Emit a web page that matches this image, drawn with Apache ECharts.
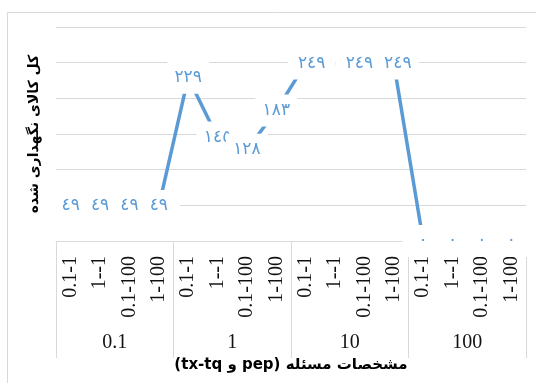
<!DOCTYPE html>
<html>
<head>
<meta charset="utf-8">
<script src="https://cdn.jsdelivr.net/npm/echarts@6/dist/echarts.min.js"></script>
<style>
  html, body { margin: 0; padding: 0; background: #ffffff; }
  #chart { width: 536px; height: 383px; }
</style>
</head>
<body>
<div id="chart"></div>
<script>
// pep values (outer level) and tx-tq settings (inner level)
const pepGroups = ['0.1', '1', '10', '100'];
const txTqSettings = ['0.1-1', '1--1', '0.1-100', '1-100'];

// total stored goods for each (pep, tx-tq) combination
const storedGoods = [
  49, 49, 49, 49,
  229, 145, 128, 183,
  249, 249, 249, 249,
  0, 0, 0, 0
];

// value axis range
const yMin = 0;
const yMax = 300;
const yStep = 50;

const yTitle = 'کل کالای نگهداری شده';
const xTitle = 'مشخصات مسئله (pep و tx-tq)';

// inner category list: every tx-tq setting repeated under each pep group
const innerCategories = [];
pepGroups.forEach(() => txTqSettings.forEach(s => innerCategories.push(s)));

const toArabicDigits = v => String(v).replace(/\d/g, d => String.fromCharCode(0x0660 + Number(d)));

// crowded labels in the flat 249 run are thinned and nudged apart
const labelTweaks = {
  8: { offset: [6, 0], width: 40 },
  9: { show: false },
  10: { offset: [-5, 0], width: 40 },
  11: { offset: [4, 0] }
};

const blue = '#5B9BD5';
const gridGrey = '#D9D9D9';
const rtl = s => '\u202B' + s + '\u202C';

const chart = echarts.init(document.getElementById('chart'), null, { renderer: 'canvas' });

chart.setOption({
  animation: false,
  backgroundColor: '#ffffff',
  graphic: [{
    type: 'rect',
    shape: { x: 7.5, y: 12.5, width: 600, height: 420 },
    style: { fill: 'none', stroke: gridGrey, lineWidth: 1 },
    silent: true,
    z: -1
  }],
  grid: { left: 56, right: 10, top: 27, bottom: 142, containLabel: false },
  xAxis: [
    {
      type: 'category',
      data: innerCategories,
      position: 'bottom',
      axisLine: { show: true, lineStyle: { color: gridGrey, width: 1 } },
      axisTick: { show: false },
      axisLabel: {
        interval: 0,
        rotate: 90,
        margin: 15,
        fontFamily: 'Liberation Serif',
        fontSize: 20,
        color: '#111111'
      },
      splitLine: { show: false }
    },
    {
      type: 'category',
      data: pepGroups,
      position: 'bottom',
      offset: 0,
      axisLine: { show: false },
      axisTick: { show: true, interval: 0, length: 117, lineStyle: { color: gridGrey, width: 1 } },
      axisLabel: {
        interval: 0,
        margin: 92,
        fontFamily: 'Liberation Serif',
        fontSize: 20,
        color: '#111111'
      },
      splitLine: { show: false },
      name: rtl(xTitle),
      nameLocation: 'middle',
      nameGap: 116,
      nameTextStyle: {
        fontFamily: 'DejaVu Sans',
        fontWeight: 'bold',
        fontSize: 15,
        color: '#000000'
      }
    }
  ],
  yAxis: {
    type: 'value',
    min: yMin,
    max: yMax,
    interval: yStep,
    axisLine: { show: false },
    axisTick: { show: false },
    axisLabel: { show: false },
    splitLine: { show: true, lineStyle: { color: gridGrey, width: 1 } },
    name: rtl(yTitle),
    nameLocation: 'middle',
    nameRotate: 90,
    nameGap: 15,
    nameTextStyle: {
      fontFamily: 'DejaVu Sans',
      fontWeight: 'bold',
      fontSize: 14,
      color: '#000000'
    }
  },
  series: [{
    type: 'line',
    xAxisIndex: 0,
    data: storedGoods.map((v, i) => Object.assign({ value: v }, labelTweaks[i] ? { label: labelTweaks[i] } : {})),
    symbol: 'circle',
    symbolSize: 1,
    showSymbol: true,
    itemStyle: { color: 'rgba(0,0,0,0)', borderWidth: 0 },
    lineStyle: { color: blue, width: 3.5 },
    emphasis: { disabled: true },
    label: {
      show: true,
      position: 'inside',
      formatter: p => toArabicDigits(p.value),
      fontFamily: 'DejaVu Sans',
      fontSize: 17,
      lineHeight: 20,
      width: 34,
      align: 'center',
      color: blue,
      backgroundColor: '#ffffff',
      padding: [6, 4]
    },
    z: 3
  }]
});
</script>
</body>
</html>
